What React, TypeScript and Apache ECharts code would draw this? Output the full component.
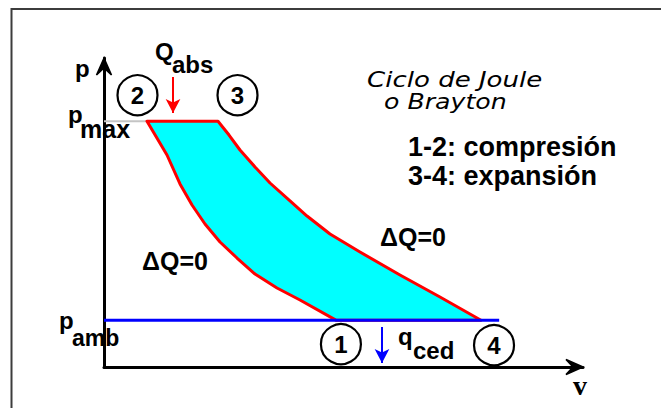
import React, { useEffect, useRef } from "react";
import * as echarts from "echarts";

// ---- data (v: specific volume, p: pressure; arbitrary units) ----
const compressionV = [5.81, 4.91, 4.334, 3.783, 3.332, 2.906, 2.53, 2.205, 1.904, 1.578, 1.077];
const compressionP = [1.0, 1.431, 1.687, 1.986, 2.328, 2.67, 3.054, 3.46, 3.909, 4.528, 5.25];
const expansionV = [2.856, 3.132, 3.407, 3.783, 4.159, 4.66, 5.086, 5.662, 6.413, 7.415, 8.417, 9.445];
const expansionP = [5.25, 4.955, 4.635, 4.272, 3.93, 3.546, 3.225, 2.841, 2.456, 1.965, 1.495, 1.0];
const pAmb = 1.0;
const pMax = 5.25;
const ambLineV = [0, 9.9];
const maxLineV = [0, 1.077];
const stateNames = ["1", "2", "3", "4"];
const stateV = [5.81, 1.077, 2.856, 9.445];
const stateP = [1.0, 5.25, 5.25, 1.0];
const heatInV = 1.729;
const heatInP = [6.194, 5.425];
const heatOutV = 6.964;
const heatOutP = [0.854, 0.085];
const vMax = 12;
const pAxisMax = 6.6;

// ---- layout (pixel offsets of the state circles from their state points) ----
const circleOffsets = [
  [5, 24],
  [-9.5, -26],
  [19.5, -26],
  [13, 25],
];

const SANS = '"Liberation Sans", Arial, sans-serif';
const ITALIC = '"DejaVu Sans", sans-serif';

function txt(text: string, x: number, baseline: number, size: number, opts: any = {}) {
  const family = opts.family || SANS;
  const weight = opts.weight || "bold";
  const style = opts.style || "normal";
  const k = opts.k ?? 0.346;
  const sx = opts.scaleX ?? 1;
  return {
    type: "text",
    x,
    y: baseline - k * size,
    scaleX: sx,
    z: 100,
    silent: true,
    style: {
      text,
      fill: "#000",
      font: `${style} ${weight} ${size}px ${family}`,
      lineHeight: size,
      textAlign: "left",
      textVerticalAlign: "middle",
    },
  };
}

const hiddenAxis = (max: number) => ({
  type: "value",
  min: 0,
  max,
  axisLine: {
    show: true,
    onZero: false,
    lineStyle: { color: "#000", width: 3 },
  },
  axisTick: { show: false },
  axisLabel: { show: false },
  splitLine: { show: false },
});

export default function App() {
  const ref = useRef<HTMLDivElement>(null);
  useEffect(() => {
    if (!ref.current) return;
    const chart = echarts.init(ref.current, undefined, { renderer: "svg" });

    const cyclePoints: number[][] = [];
    compressionV.forEach((v, i) => cyclePoints.push([v, compressionP[i]]));
    expansionV.forEach((v, i) => cyclePoints.push([v, expansionP[i]]));

    const texts = [
      txt("p", 75, 77, 24),
      txt("Q", 155, 60, 24),
      txt("abs", 172, 73, 24),
      txt("p", 68, 123, 24),
      txt("max", 80, 138, 25),
      txt("p", 59, 329, 24),
      txt("amb", 72, 346, 23),
      txt("q", 398, 345, 24),
      txt("ced", 413, 359, 24),
      txt("\u0394Q=0", 142, 270, 25),
      txt("\u0394Q=0", 380, 246, 25),
      txt("1-2: compresión", 408, 156, 27),
      txt("3-4: expansión", 408, 185, 27),
      txt("Ciclo de Joule", 367, 87, 21, { family: ITALIC, weight: "normal", style: "oblique", scaleX: 1.24 }),
      txt("o Brayton", 384, 109, 21, { family: ITALIC, weight: "normal", style: "oblique", scaleX: 1.2 }),
      txt("v", 573, 395, 28, { family: '"Liberation Serif", "Times New Roman", serif', k: 0.3375 }),
    ];
    const frame = {
      type: "rect",
      silent: true,
      z: 0,
      shape: { x: 11.5, y: 9, width: 720, height: 480 },
      style: { fill: "none", stroke: "#3c3c3c", lineWidth: 2 },
    };

    const option: any = {
      animation: false,
      backgroundColor: "#fff",
      grid: { left: 104, top: 58, right: 78, bottom: 41, containLabel: false },
      xAxis: hiddenAxis(vMax),
      yAxis: hiddenAxis(pAxisMax),
      series: [
        {
          type: "line",
          z: 1,
          silent: true,
          clip: false,
          symbol: "none",
          data: maxLineV.map((v) => [v, pMax]),
          lineStyle: { color: "#c4c4c4", width: 2 },
        },
        {
          type: "custom",
          z: 2,
          silent: true,
          coordinateSystem: "cartesian2d",
          data: [[0, 0]],
          renderItem: (_params: any, api: any) => {
            const pts = cyclePoints.map((d) => api.coord(d));
            return {
              type: "polygon",
              shape: { points: pts },
              style: { fill: "#00ffff", stroke: "#ff0000", lineWidth: 3, lineJoin: "round" },
            };
          },
        },
        {
          type: "line",
          z: 3,
          silent: true,
          clip: false,
          symbol: "none",
          data: ambLineV.map((v) => [v, pAmb]),
          lineStyle: { color: "#0000ff", width: 3 },
          markLine: {
            silent: true,
            symbol: ["none", "arrow"],
            symbolSize: [11, 14],
            label: { show: false },
            data: [
              [
                { coord: [heatInV, heatInP[0]], lineStyle: { color: "#ff0000", width: 2, type: "solid" } },
                { coord: [heatInV, heatInP[1]] },
              ],
              [
                { coord: [heatOutV, heatOutP[0]], lineStyle: { color: "#0000ff", width: 2, type: "solid" } },
                { coord: [heatOutV, heatOutP[1]] },
              ],
            ],
          },
        },
        {
          type: "scatter",
          z: 4,
          silent: true,
          symbol: "circle",
          symbolSize: 40,
          itemStyle: { color: "#fff", borderColor: "#000", borderWidth: 2.2, opacity: 1 },
          label: {
            show: true,
            position: "inside",
            formatter: (p: any) => p.name,
            color: "#000",
            fontFamily: SANS,
            fontWeight: "bold",
            fontSize: 24,
          },
          data: stateNames.map((n, i) => ({
            name: n,
            value: [stateV[i], stateP[i]],
            symbolOffset: circleOffsets[i],
          })),
        },
      ],
      graphic: [frame, ...texts],
    };
    chart.setOption(option);

    // axis arrowheads, positioned through the chart's own scales
    const up = chart.convertToPixel({ gridIndex: 0 }, [0, pAxisMax]) as number[];
    const right = chart.convertToPixel({ gridIndex: 0 }, [vMax, 0]) as number[];
    const L = 17;
    const W = 7.5;
    const N = 10;
    const arrows: any[] = [];
    if (up && right) {
      const [ux, uy] = up;
      const [rx, ry] = right;
      arrows.push({
        type: "polygon",
        silent: true,
        z: 50,
        shape: { points: [[ux, uy], [ux + W, uy + L], [ux, uy + N], [ux - W, uy + L]] },
        style: { fill: "#000", stroke: "#000", lineWidth: 1.5, lineJoin: "miter" },
      });
      arrows.push({
        type: "polygon",
        silent: true,
        z: 50,
        shape: { points: [[rx, ry], [rx - L, ry - W], [rx - N, ry], [rx - L, ry + W]] },
        style: { fill: "#000", stroke: "#000", lineWidth: 1.5, lineJoin: "miter" },
      });
    }
    chart.setOption({ graphic: [frame, ...texts, ...arrows] }, { replaceMerge: ["graphic"] });

    return () => chart.dispose();
  }, []);
  return (
    <div
      ref={ref}
      style={{ position: "fixed", left: 0, top: 0, width: 661, height: 408, background: "#fff" }}
    />
  );
}
